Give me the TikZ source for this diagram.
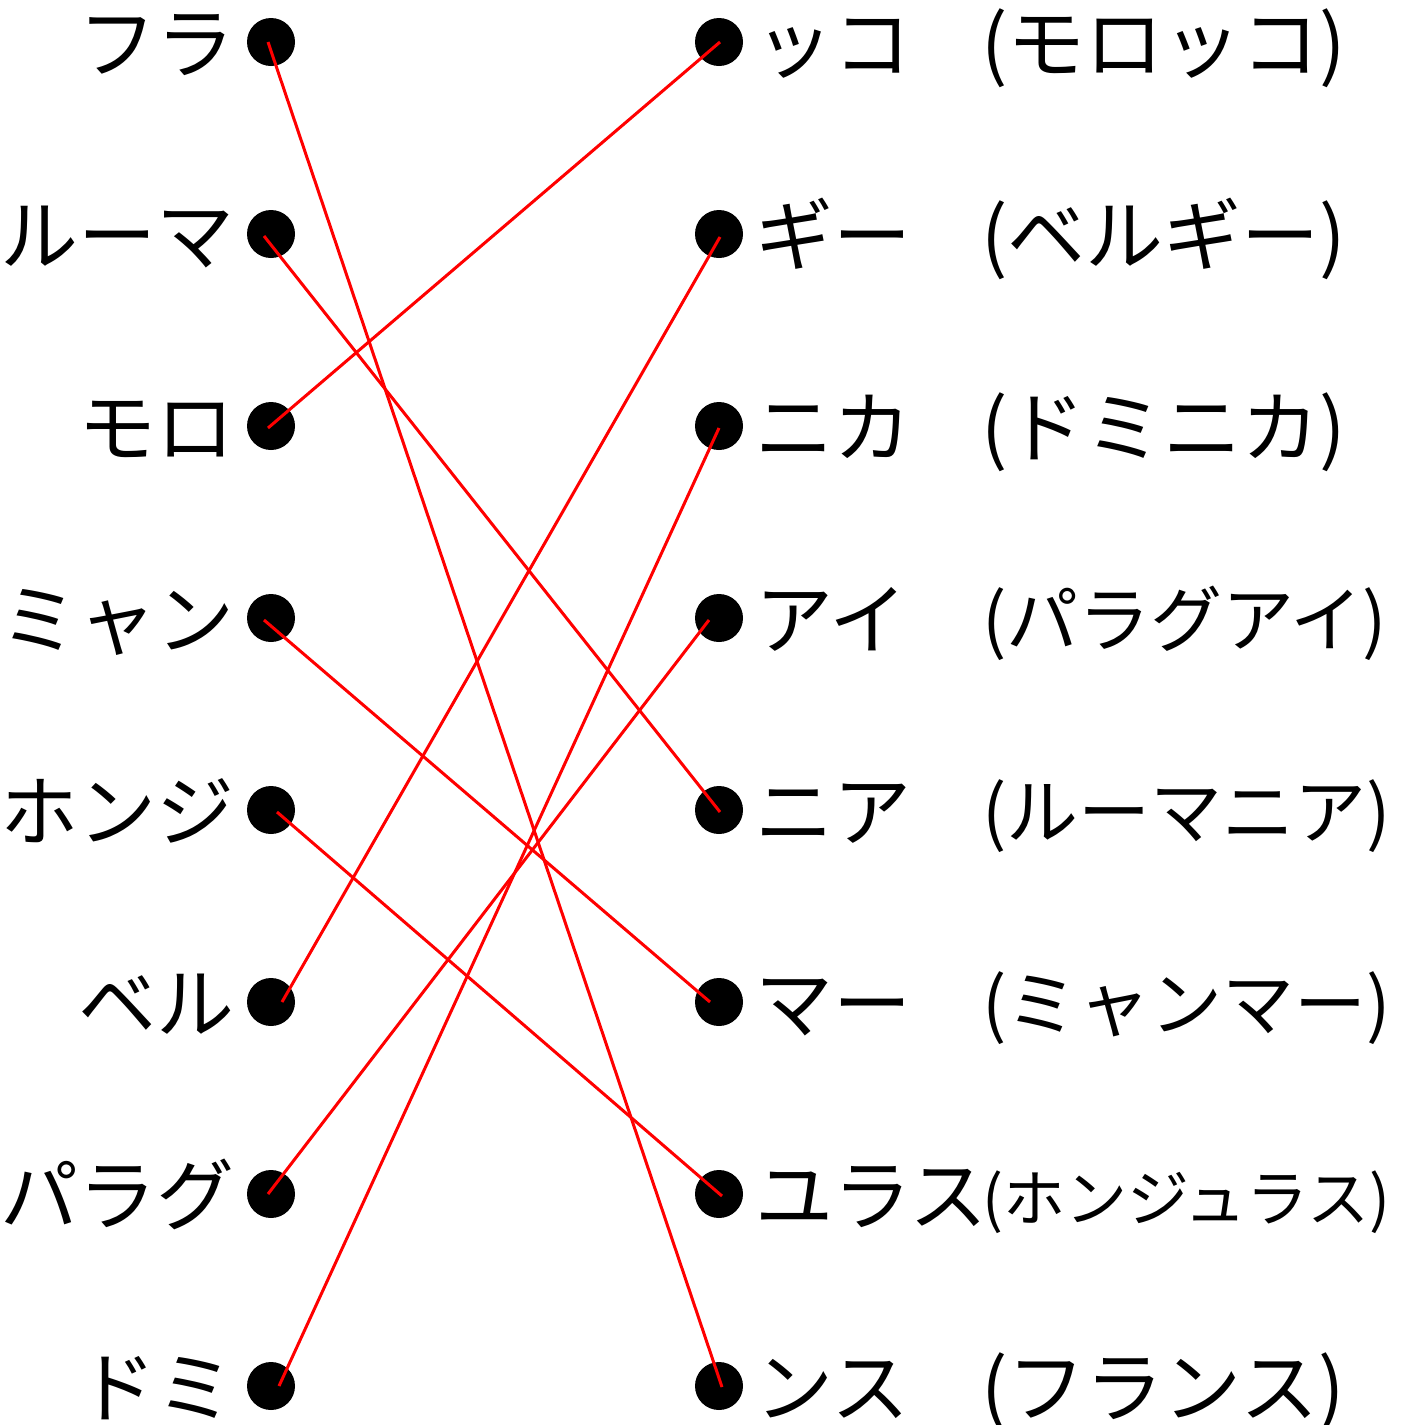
\documentclass[tikz,border=0pt]{standalone}
\usepackage{fontspec}
\setmainfont{Noto Sans CJK JP}
\begin{document}
\begin{tikzpicture}[x=1pt,y=-1pt,
  dot/.style={circle,fill=black,minimum size=48pt,inner sep=0pt},
  lab/.style={inner sep=0pt,font=\fontsize{78}{78}\selectfont},
  lablft/.style={lab,anchor=base east},
  labrgt/.style={lab,anchor=base west},
  labsmall/.style={labrgt,font=\fontsize{72}{72}\selectfont},
  link/.style={red,line width=3pt}]
\useasboundingbox (0,0) rectangle (1402,1425);
% left dots
\node[dot] (l1) at (271,42) {};
\node[dot] (l2) at (271,234) {};
\node[dot] (l3) at (271,426) {};
\node[dot] (l4) at (271,618) {};
\node[dot] (l5) at (271,810) {};
\node[dot] (l6) at (271,1002) {};
\node[dot] (l7) at (271,1194) {};
\node[dot] (l8) at (271,1386) {};
% right dots
\node[dot] (r1) at (719,42) {};
\node[dot] (r2) at (719,234) {};
\node[dot] (r3) at (719,426) {};
\node[dot] (r4) at (719,618) {};
\node[dot] (r5) at (719,810) {};
\node[dot] (r6) at (719,1002) {};
\node[dot] (r7) at (719,1194) {};
\node[dot] (r8) at (719,1386) {};
% left labels
\node[lablft] (tl1) at (235,72) {フラ};
\node[lablft] (tl2) at (235,264) {ルーマ};
\node[lablft] (tl3) at (235,456) {モロ};
\node[lablft] (tl4) at (235,648) {ミャン};
\node[lablft] (tl5) at (235,840) {ホンジ};
\node[lablft] (tl6) at (235,1032) {ベル};
\node[lablft] (tl7) at (235,1224) {パラグ};
\node[lablft] (tl8) at (235,1416) {ドミ};
% right labels
\node[labrgt] (tr1) at (755,72) {ッコ};
\node[labrgt] (tr2) at (755,264) {ギー};
\node[labrgt] (tr3) at (755,456) {ニカ};
\node[labrgt] (tr4) at (755,648) {アイ};
\node[labrgt] (tr5) at (755,840) {ニア};
\node[labrgt] (tr6) at (755,1032) {マー};
\node[labrgt] (tr7) at (755,1224) {ユラス};
\node[labrgt] (tr8) at (755,1416) {ンス};
% full names
\node[labrgt] (pr1) at (981,72) {(モロッコ)};
\node[labrgt] (pr2) at (981,264) {(ベルギー)};
\node[labrgt] (pr3) at (981,456) {(ドミニカ)};
\node[labsmall] (pr4) at (982,646) {(パラグアイ)};
\node[labsmall] (pr5) at (982,838) {(ルーマニア)};
\node[labsmall] (pr6) at (982,1030) {(ミャンマー)};
\node[labrgt,font=\fontsize{62}{62}\selectfont] (pr7) at (982,1221) {(ホンジュラス)};
\node[labrgt] (pr8) at (981,1416) {(フランス)};
% links
\draw[link] ([shift={(-3,0)}]l1.center) -- ([shift={(3,1)}]r8.center);
\draw[link] ([shift={(-7,2)}]l2.center) -- ([shift={(1,2)}]r5.center);
\draw[link] ([shift={(-3,2)}]l3.center) -- ([shift={(1,0)}]r1.center);
\draw[link] ([shift={(-7,2)}]l4.center) -- ([shift={(-9,0)}]r6.center);
\draw[link] ([shift={(6,2)}]l5.center) -- ([shift={(3,2)}]r7.center);
\draw[link] ([shift={(11,0)}]l6.center) -- ([shift={(1,3)}]r2.center);
\draw[link] ([shift={(-3,0)}]l7.center) -- ([shift={(-10,2)}]r4.center);
\draw[link] ([shift={(8,0)}]l8.center) -- ([shift={(0,2)}]r3.center);
\end{tikzpicture}
\end{document}
